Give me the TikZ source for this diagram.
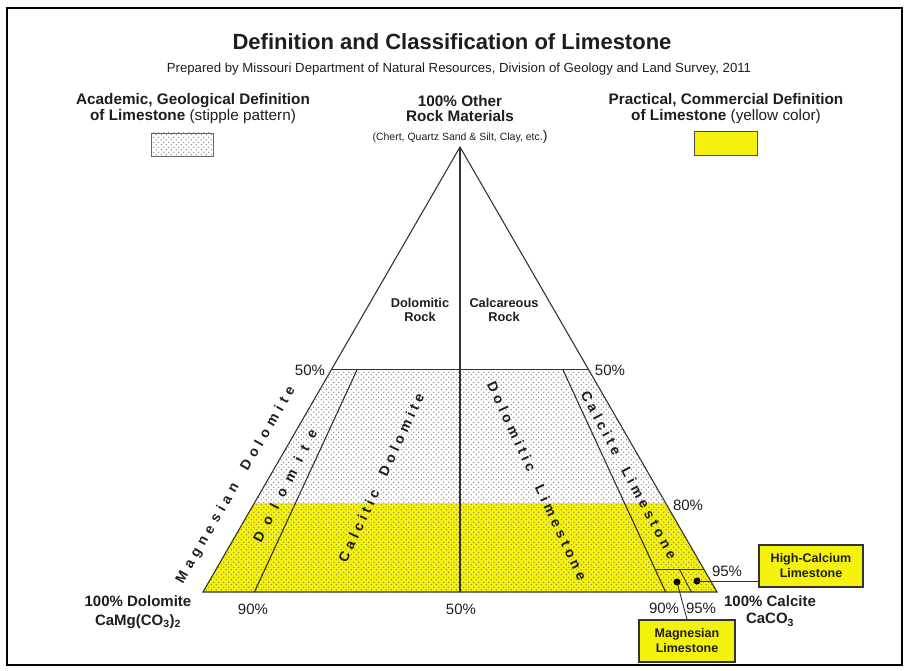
\documentclass[tikz,border=0pt]{standalone}
\usepackage{fontspec}
\setmainfont{Liberation Sans}
\usetikzlibrary{patterns}
\definecolor{limey}{RGB}{244,241,12}
\definecolor{ink}{RGB}{30,30,30}
\pgfdeclarepatternformonly{stip}{\pgfpoint{-0.5pt}{-0.5pt}}{\pgfpoint{5.5pt}{5.5pt}}{\pgfpoint{5pt}{5pt}}{%
  \pgfpathcircle{\pgfpoint{1.25pt}{1.25pt}}{0.7pt}%
  \pgfpathcircle{\pgfpoint{3.75pt}{3.75pt}}{0.7pt}%
  \pgfusepath{fill}}
\newcommand{\wgap}{\ \hspace{8pt}}
\begin{document}
\begin{tikzpicture}[x=1pt,y=-1pt,
  lbl/.style={inner sep=0pt, text=ink, align=center},
  bold/.style={lbl, font=\bfseries\fontsize{#1}{#1}\selectfont},
  reg/.style={lbl, font=\fontsize{#1}{#1}\selectfont},
  spaced/.style 2 args={lbl, font=\bfseries\fontsize{14}{16}\selectfont\addfontfeature{LetterSpace=#1}, rotate=#2},
  edge/.style={draw=black!80, line width=1.1pt},
  thin/.style={draw=black!80, line width=0.9pt},
  boxy/.style={draw=black!80, line width=1.1pt, fill=limey, inner sep=0pt, text=ink, align=center,
    font=\bfseries\fontsize{12.5}{15}\selectfont},
  dotm/.style={circle, fill=black, inner sep=0pt, minimum size=7pt}]
\useasboundingbox (0,0) rectangle (909,671);
\draw[line width=2pt, black] (7,8) rectangle (902,665);

% key coordinates
\coordinate (A) at (460,147);
\coordinate (L) at (203,592);
\coordinate (R) at (717,592);
\coordinate (B50) at (460,592);
\coordinate (ML) at (331.5,369.5);
\coordinate (MR) at (588.5,369.5);
\coordinate (YL) at (254.4,503);
\coordinate (YR) at (665.6,503);
\coordinate (D90t) at (357.2,369.5);
\coordinate (D90b) at (254.4,592);
\coordinate (C90t) at (562.8,369.5);
\coordinate (C90b) at (665.6,592);
\coordinate (H95a) at (655.3,569.75);
\coordinate (H95b) at (704.15,569.75);
\coordinate (C95t) at (679.7,569.75);
\coordinate (C95b) at (691.3,592);

% fills
\fill[white] (ML) -- (MR) -- (R) -- (L) -- cycle;
\fill[limey] (YL) -- (YR) -- (R) -- (L) -- cycle;
\fill[pattern=stip, pattern color=black!55] (ML) -- (MR) -- (R) -- (L) -- cycle;

% lines
\draw[edge] (A) -- (L) -- (R) -- cycle;
\draw[edge] (A) -- (B50);
\draw[edge] (ML) -- (MR);
\draw[edge] (D90t) -- (D90b);
\draw[edge] (C90t) -- (C90b);
\draw[thin] (H95a) -- (H95b);
\draw[thin] (C95t) -- (C95b);

% title
\node[bold=22] (title) at (452,42) {Definition and Classification of Limestone};
\node[reg=13.2] (sub) at (459,69) {Prepared by Missouri Department of Natural Resources, Division of Geology and Land Survey, 2011};

% legend left
\node[lbl, font=\fontsize{15.3}{15.5}\selectfont] (acad) at (193,108.5) {\bfseries Academic, Geological Definition\\\bfseries of Limestone \mdseries(stipple pattern)};
\path[draw=black!60, line width=0.8pt, fill=white] (151,133) rectangle (213,156);
\fill[pattern=stip, pattern color=black!55] (151,133) rectangle (213,156);
\node[lbl, minimum width=62pt, minimum height=23pt] (stipkey) at (182,144.5) {};
% legend right
\node[lbl, font=\fontsize{15.3}{15.5}\selectfont] (prac) at (726,108.5) {\bfseries Practical, Commercial Definition\\\bfseries of Limestone \mdseries(yellow color)};
\node[draw=black!70, line width=1pt, fill=limey, minimum width=63pt, minimum height=24pt, inner sep=0pt] (yelkey) at (725.5,144) {};
% top vertex
\node[lbl, font=\bfseries\fontsize{15.3}{15.5}\selectfont] (other) at (460,108.5) {100\% Other\\Rock Materials};
\node[reg=10.5] (chert) at (460,137) {(Chert, Quartz Sand \& Silt, Clay, etc.{\fontsize{14}{14}\selectfont)}};

% region labels
\node[lbl, font=\bfseries\fontsize{12.8}{14}\selectfont] (dolrock) at (420,309.5) {Dolomitic\\Rock};
\node[lbl, font=\bfseries\fontsize{12.8}{14}\selectfont] (calrock) at (504,309.5) {Calcareous\\Rock};

\node[spaced={36}{60}] (magdol) at (236,485) {Magnesian\wgap Dolomite};
\node[spaced={66}{63}] (dol) at (285,486) {Dolomite};
\node[spaced={30}{65}] (caldol) at (381,478) {Calcitic\wgap Dolomite};
\node[spaced={30}{-65}] (dollim) at (537,481) {Dolomitic\wgap Limestone};
\node[spaced={29}{-62}] (callim) at (629,475) {Calcite\wgap Limestone};

% percent labels
\node[reg=15] (p50l) at (310,370) {50\%};
\node[reg=15] (p50r) at (610,370) {50\%};
\node[reg=15] (p80) at (688,505) {80\%};
\node[reg=15] (p95r) at (727,571) {95\%};
\node[reg=15] (p90b) at (253,609) {90\%};
\node[reg=15] (p50b) at (461,609) {50\%};
\node[reg=15] (p90c) at (664,608) {90\%};
\node[reg=15] (p95c) at (701,608) {95\%};

% corner labels
\node[lbl, font=\bfseries\fontsize{15}{19}\selectfont] (dolc) at (138,612) {100\% Dolomite\\CaMg(CO\textsubscript{3})\textsubscript{2}};
\node[lbl, font=\bfseries\fontsize{15}{17}\selectfont] (calc) at (770,611) {100\% Calcite\\CaCO\textsubscript{3}};

% boxes and pointers
\node[boxy, minimum width=104pt, minimum height=42pt] (HC) at (811,566) {High-Calcium\\Limestone};
\node[boxy, minimum width=96pt, minimum height=42pt] (MG) at (687,641) {Magnesian\\Limestone};
\node[dotm] (hcdot) at (697,581) {};
\node[dotm] (mgdot) at (677,582) {};
\draw[thin] (hcdot.center) -- (hcdot.center -| HC.west);
\draw[thin] (mgdot.center) -- (MG.north);
\end{tikzpicture}
\end{document}
